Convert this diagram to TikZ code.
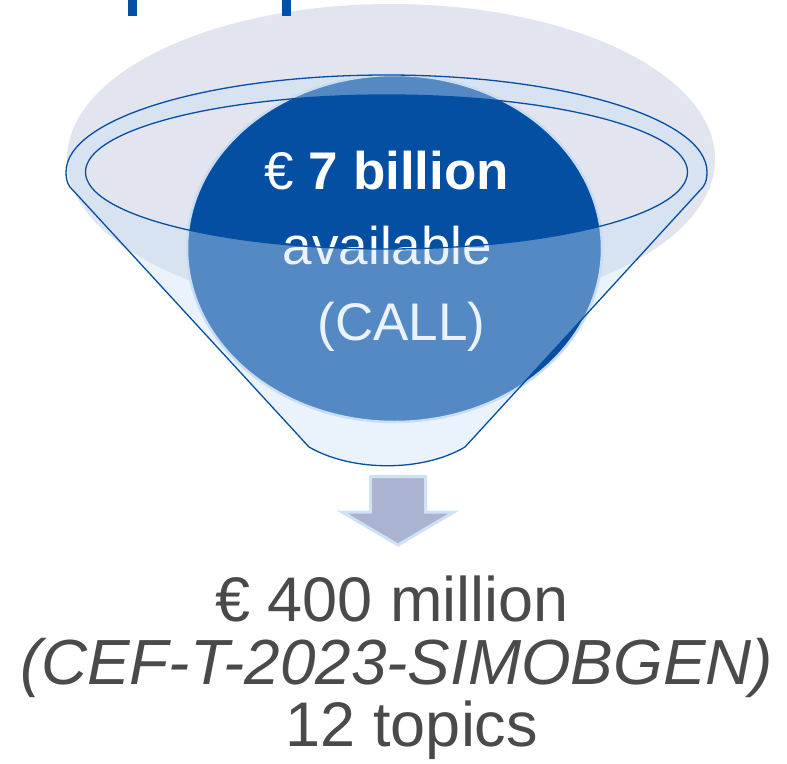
\documentclass[tikz,border=0pt]{standalone}
\usepackage{fontspec}
\setmainfont{Liberation Sans}
\definecolor{ecblue}{HTML}{054FA3}
\definecolor{bggray}{HTML}{E2E5EF}
\definecolor{ringblue}{HTML}{C8DCF1}
\definecolor{funnelfill}{HTML}{CBE1F5}
\definecolor{arrowfill}{HTML}{AAB3CF}
\definecolor{arrowline}{HTML}{CFE2F5}
\definecolor{textgray}{HTML}{4A4A4A}
\begin{document}
\begin{tikzpicture}[x=1pt,y=-1pt,
  toptext/.style={inner sep=0pt, anchor=base, text=white, font=\fontsize{53}{60}\selectfont},
  bottext/.style={inner sep=0pt, anchor=base, text=textgray, font=\fontsize{63}{70}\selectfont},
  funnelbody/.style={fill=funnelfill, fill opacity=0.4, even odd rule},
  funnelline/.style={draw=ecblue, line width=1.3pt, line join=round},
  arrowshape/.style={fill=arrowfill, draw=arrowline, line width=3pt, line join=miter}]
\useasboundingbox (0,0) rectangle (787,763);
% background disc
\fill[bggray] (391,159) ellipse [x radius=324pt, y radius=155pt];
% cut-off marks at the top
\fill[ecblue] (128,0) rectangle (137,16);
\fill[ecblue] (282,0) rectangle (291,16);
% dark blue disc
\filldraw[fill=ecblue, draw=ringblue, line width=2.5pt] (394.5,248.5) ellipse [x radius=207.5pt, y radius=173.5pt];
% texts in the disc
\node[toptext] (t1) at (387,189) {€ \textbf{7 billion}};
\node[toptext] (t2) at (387.5,264) {available};
\node[toptext] (t3) at (401.5,340) {(CALL)};
% funnel
\path[funnelbody] (707,172) arc[start angle=0, end angle=180, x radius=320.5pt, y radius=97pt]
   .. controls (66,178) and (67,183) .. (70,187) -- (309,447)
   .. controls (352,472) and (423,472) .. (465,447)
   -- (703,187) .. controls (706,183) and (707,178) .. cycle
   (386.5,172) ellipse [x radius=301pt, y radius=77pt];
\draw[funnelline] (707,172) arc[start angle=0, end angle=180, x radius=320.5pt, y radius=97pt]
   .. controls (66,178) and (67,183) .. (70,187) -- (309,447)
   .. controls (352,472) and (423,472) .. (465,447)
   -- (703,187) .. controls (706,183) and (707,178) .. cycle;
\draw[funnelline] (386.5,172) ellipse [x radius=301pt, y radius=77pt];
% down arrow
\path[arrowshape] (370.5,476.5) -- (425.5,476.5) -- (425.5,512) -- (454,512) -- (398,545)
   -- (342,512) -- (370.5,512) -- cycle;
% texts below
\node[bottext] (b1) at (392,621) {€ 400 million};
\node[bottext, font=\fontsize{63.8}{70}\selectfont] (b2) at (396.5,684) {\itshape (CEF-T-2023-SIMOBGEN)};
\node[bottext] (b3) at (412,746) {12 topics};
\end{tikzpicture}
\end{document}
